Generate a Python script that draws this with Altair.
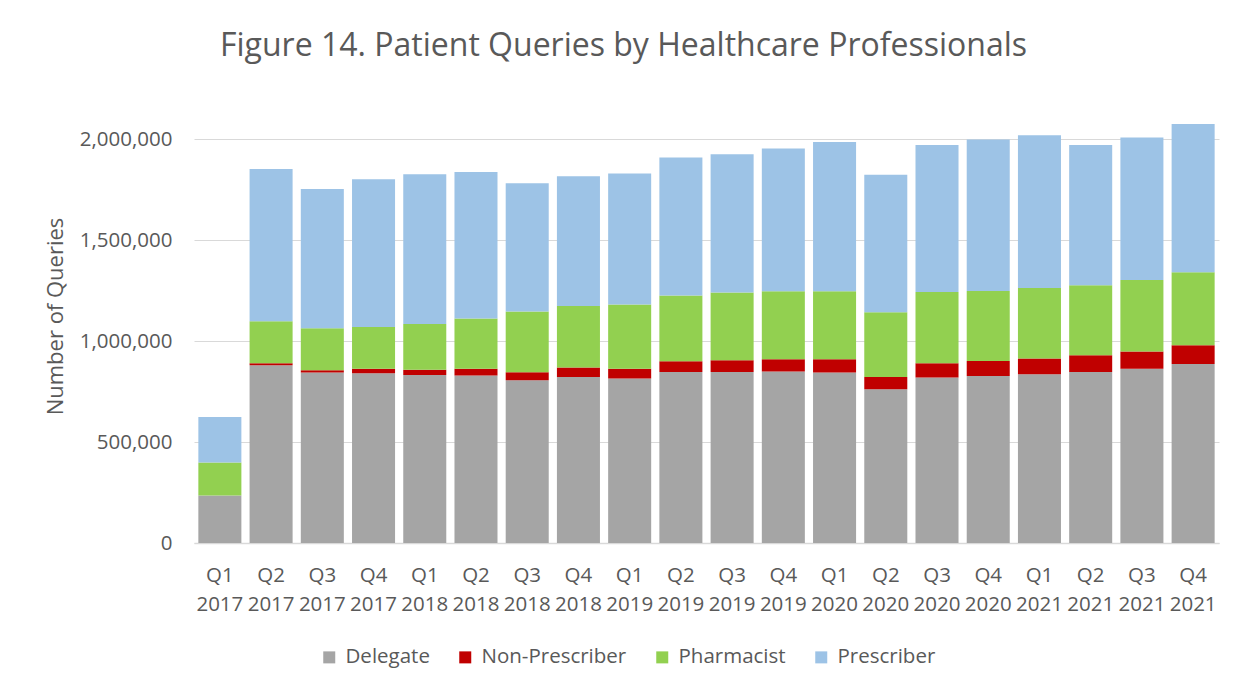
import altair as alt
import pandas as pd

quarters = ["Q1 2017", "Q2 2017", "Q3 2017", "Q4 2017",
            "Q1 2018", "Q2 2018", "Q3 2018", "Q4 2018",
            "Q1 2019", "Q2 2019", "Q3 2019", "Q4 2019",
            "Q1 2020", "Q2 2020", "Q3 2020", "Q4 2020",
            "Q1 2021", "Q2 2021", "Q3 2021", "Q4 2021"]

delegate = [235000, 881000, 845000, 841000, 832000, 830000, 807000, 823000,
            815000, 848000, 848000, 850000, 845000, 762000, 820000, 828000,
            836000, 848000, 863000, 887000]
non_prescriber = [0, 10000, 11000, 22000, 27000, 33000, 39000, 47000,
                  48000, 53000, 58000, 61000, 66000, 61000, 71000, 74000,
                  78000, 83000, 86000, 93000]
pharmacist = [164000, 208000, 208000, 208000, 226000, 249000, 301000, 305000,
              319000, 326000, 335000, 337000, 337000, 321000, 353000, 347000,
              350000, 347000, 355000, 362000]
prescriber = [226000, 754000, 691000, 732000, 742000, 727000, 636000, 643000,
              649000, 684000, 686000, 707000, 739000, 681000, 728000, 751000,
              757000, 695000, 706000, 735000]

series_names = ["Delegate", "Non-Prescriber", "Pharmacist", "Prescriber"]
series_colors = ["#A5A5A5", "#C00000", "#92D050", "#9DC3E6"]
y_ticks = [0, 500000, 1000000, 1500000, 2000000]

rows = []
for i, q in enumerate(quarters):
    for k, (name, vals) in enumerate(zip(series_names, [delegate, non_prescriber, pharmacist, prescriber])):
        rows.append({"quarter": q, "series": name, "value": vals[i], "order": k})
df = pd.DataFrame(rows)

FONT = "Open Sans"
TXT = "#595959"

chart = alt.Chart(df).mark_bar().encode(
    x=alt.X("quarter:N", sort=quarters, title=None,
            scale=alt.Scale(paddingInner=0.16, paddingOuter=0.085),
            axis=alt.Axis(labelAngle=0, labelExpr="split(datum.label, ' ')",
                          labelFontSize=20.5, labelColor=TXT, labelFont=FONT,
                          labelLineHeight=29, labelPadding=22, ticks=False,
                          domainColor="#D9D9D9", domainWidth=1.5, grid=False)),
    y=alt.Y("value:Q", stack="zero", title="Number of Queries",
            scale=alt.Scale(domain=[0, 2250000], nice=False),
            axis=alt.Axis(values=y_ticks, format=",.0f", labelFontSize=20.5,
                          labelColor=TXT, labelFont=FONT, ticks=False,
                          labelPadding=22, domain=False, gridColor="#D9D9D9",
                          gridWidth=1.2, titleFontSize=22, titleColor=TXT,
                          titleFont=FONT, titleFontWeight="normal",
                          titlePadding=12)),
    color=alt.Color("series:N", scale=alt.Scale(domain=series_names, range=series_colors),
                    legend=alt.Legend(title=None, orient="none", direction="horizontal",
                                      legendX=125, legendY=558, symbolType="square",
                                      symbolSize=144, symbolStrokeWidth=0,
                                      labelFontSize=20.5, labelColor=TXT, labelFont=FONT,
                                      labelOffset=6, columnPadding=25)),
    order=alt.Order("order:Q", sort="ascending"),
).properties(
    width=1025, height=454,
    padding={"left": 186, "top": 81, "right": 20, "bottom": 140},
    autosize=alt.AutoSizeParams(type="none"),
    title=alt.TitleParams("Figure 14. Patient Queries by Healthcare Professionals",
                          fontSize=32, font=FONT, color=TXT, fontWeight="normal",
                          anchor="middle", dx=-83, offset=26),
).configure_view(stroke=None)

chart.save("out.html", embed_options={"renderer": "svg", "actions": False})
